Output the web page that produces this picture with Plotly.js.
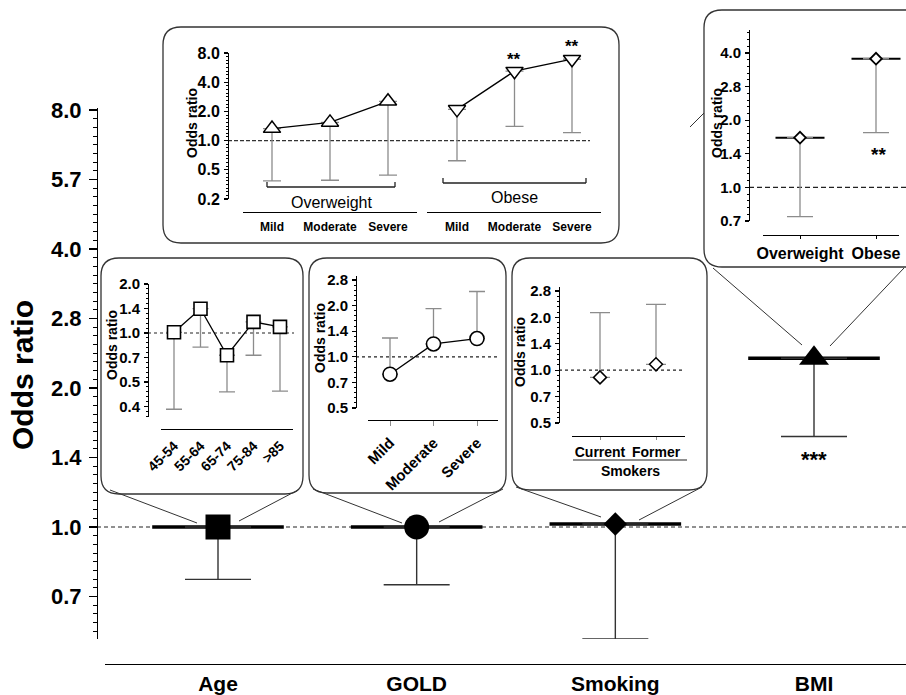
<!DOCTYPE html>
<html>
<head>
<meta charset="utf-8">
<script src="https://cdn.plot.ly/plotly-3.0.1.min.js"></script>
<style>html,body{margin:0;padding:0;background:#fff;}#chart{width:906px;height:695px;}</style>
</head>
<body>
<div id="chart"></div>
<script>
// ---------------- DATA ----------------
// Main panel
const mainCats = ['Age', 'GOLD', 'Smoking', 'BMI'];
const mainOR = [1.0, 1.0, 1.015, 2.32];
const mainLower = [0.77, 0.75, 0.572, 1.57];
const mainTickVals = [0.7071, 1, 1.4142, 2, 2.8284, 4, 5.6569, 8];
const mainTickText = ['0.7', '1.0', '1.4', '2.0', '2.8', '4.0', '5.7', '8.0'];

// Age inset
const ageCats = ['45-54', '55-64', '65-74', '75-84', '>85'];
const ageOR = [1.01, 1.41, 0.73, 1.17, 1.09];
const ageLower = [0.34, 0.82, 0.435, 0.73, 0.44];
const ageTickVals = [0.3536, 0.5, 0.7071, 1, 1.4142, 2];
const ageTickText = ['0.4', '0.5', '0.7', '1.0', '1.4', '2.0'];

// GOLD inset
const goldCats = ['Mild', 'Moderate', 'Severe'];
const goldOR = [0.79, 1.19, 1.28];
const goldUpper = [1.29, 1.92, 2.42];
const goldTickVals = [0.5, 0.7071, 1, 1.4142, 2, 2.8284];
const goldTickText = ['0.5', '0.7', '1.0', '1.4', '2.0', '2.8'];

// Smoking inset
const smokeCats = ['Current', 'Former'];
const smokeOR = [0.91, 1.08];
const smokeUpper = [2.13, 2.37];
const smokeTickVals = [0.5, 0.7071, 1, 1.4142, 2, 2.8284];
const smokeTickText = ['0.5', '0.7', '1.0', '1.4', '2.0', '2.8'];

// BMI inset
const bmiCats = ['Overweight', 'Obese'];
const bmiOR = [1.67, 3.77];
const bmiLower = [0.74, 1.76];
const bmiTickVals = [0.7071, 1, 1.4142, 2, 2.8284, 4];
const bmiTickText = ['0.7', '1.0', '1.4', '2.0', '2.8', '4.0'];

// Severity x BMI inset
const sevCats = ['Mild', 'Moderate', 'Severe'];
const owOR = [1.33, 1.54, 2.54];
const owLower = [0.385, 0.39, 0.44];
const obOR = [2.1, 5.2, 6.9];
const obLower = [0.62, 1.40, 1.21];
const sevTickVals = [0.25, 0.5, 1, 2, 4, 8];
const sevTickText = ['0.2', '0.5', '1.0', '2.0', '4.0', '8.0'];

// ---------------- HELPERS ----------------
const W = 906, H = 695;
const px = x => x / W;
const py = y => 1 - y / H;
const FONT = 'Liberation Sans, Arial, Helvetica, sans-serif';
const bold = (size) => ({family: FONT, size: size, color: '#000', weight: 'bold'});

function logRange(yTop, yBot, y1, v1, y2, v2) {
  const l1 = Math.log10(v1), l2 = Math.log10(v2);
  const k = (l2 - l1) / (y2 - y1);
  return [l1 + (yBot - y1) * k, l1 + (yTop - y1) * k];
}
function catRange(xL, xR, x0, x1, n) {
  const k = (n - 1) / (x1 - x0);
  return [-(x0 - xL) * k, (n - 1) + (xR - x1) * k];
}
function minorVals(tv, n, r) {
  const step = Math.log10(tv[1] / tv[0]) / (n + 1);
  const out = [];
  const start = Math.log10(tv[0]);
  for (let k = -200; k < 200; k++) {
    const l = start + k * step;
    if (l < r[0] - 1e-9 || l > r[1] + 1e-9) continue;
    if (k % (n + 1) === 0) continue;
    out.push(Math.pow(10, l));
  }
  return out;
}
function yLog(domTop, domBot, xPos, ref1, ref2, tv, tt, fs, tl, nMinor, stand) {
  const r = logRange(domTop, domBot, ref1[0], ref1[1], ref2[0], ref2[1]);
  return {
    domain: [py(domBot), py(domTop)], type: 'log', range: r, autorange: false,
    anchor: 'free', position: px(xPos), showline: true, linecolor: '#000', linewidth: 1.3,
    showgrid: false, zeroline: false, tickmode: 'array', tickvals: tv, ticktext: tt,
    ticks: 'outside', ticklen: tl, tickwidth: 1.2, tickcolor: '#000',
    ticklabelstandoff: stand, tickfont: bold(fs), automargin: false, fixedrange: true,
    minor: {tickmode: 'array', tickvals: minorVals(tv, nMinor, r), ticks: 'outside',
            ticklen: Math.max(2, tl * 0.5), tickwidth: 1, tickcolor: '#000', showgrid: false}
  };
}
function xCat(domL, domR, yPos, x0, x1, cats, fs, opts) {
  return Object.assign({
    domain: [px(domL), px(domR)], type: 'category', range: catRange(domL, domR, x0, x1, cats.length),
    autorange: false, anchor: 'free', position: py(yPos), showline: true, linecolor: '#000',
    linewidth: 1.3, showgrid: false, zeroline: false, ticks: '', tickfont: bold(fs),
    automargin: false, fixedrange: true
  }, opts || {});
}
function roundRect(x0, y0, x1, y1, r) {
  const X = v => px(v).toFixed(5), Y = v => py(v).toFixed(5);
  return 'M' + X(x0 + r) + ',' + Y(y0) +
    ' L' + X(x1 - r) + ',' + Y(y0) + ' Q' + X(x1) + ',' + Y(y0) + ' ' + X(x1) + ',' + Y(y0 + r) +
    ' L' + X(x1) + ',' + Y(y1 - r) + ' Q' + X(x1) + ',' + Y(y1) + ' ' + X(x1 - r) + ',' + Y(y1) +
    ' L' + X(x0 + r) + ',' + Y(y1) + ' Q' + X(x0) + ',' + Y(y1) + ' ' + X(x0) + ',' + Y(y1 - r) +
    ' L' + X(x0) + ',' + Y(y0 + r) + ' Q' + X(x0) + ',' + Y(y0) + ' ' + X(x0 + r) + ',' + Y(y0) + ' Z';
}
function boxShape(x0, y0, x1, y1, r) {
  return {type: 'path', xref: 'paper', yref: 'paper', path: roundRect(x0, y0, x1, y1, r),
          line: {color: '#333', width: 1.3}, fillcolor: 'rgba(0,0,0,0)', layer: 'above'};
}
function seg(x0, y0, x1, y1, c, w, dash) {
  return {type: 'line', xref: 'paper', yref: 'paper', x0: px(x0), y0: py(y0), x1: px(x1), y1: py(y1),
          line: {color: c || '#333', width: w || 1, dash: dash || 'solid'}, layer: 'above'};
}
function refLine(yref, x0, x1, dash, c) {
  return {type: 'line', xref: 'paper', yref: yref, x0: px(x0), x1: px(x1), y0: 1, y1: 1,
          line: {color: c || '#222', width: 1.2, dash: dash}, layer: 'below'};
}
const minus = (a, b) => a.map((v, i) => v - b[i]);
const zeros = a => a.map(() => 0);
const GRAY = '#8c8c8c';

// ---------------- TRACES ----------------
const traces = [];

// main: wide horizontal bars at OR (line-ew length = 1.4 * size)
traces.push({
  x: mainCats, y: mainOR, xaxis: 'x', yaxis: 'y', type: 'scatter', mode: 'markers',
  marker: {symbol: 'line-ew', size: 94, opacity: 1, line: {color: '#000', width: 3.5}},
  cliponaxis: false, hoverinfo: 'skip'
});
// main: markers + lower error bars
traces.push({
  x: mainCats, y: mainOR, xaxis: 'x', yaxis: 'y', type: 'scatter', mode: 'markers',
  marker: {symbol: ['square', 'circle', 'diamond', 'triangle-up'], size: [25, 25, 18, 26], color: '#000',
           opacity: 1, line: {width: 0}},
  error_y: {type: 'data', symmetric: false, array: zeros(mainOR), arrayminus: minus(mainOR, mainLower),
            color: '#333', thickness: 1.4, width: 33},
  cliponaxis: false
});

// Age inset
traces.push({
  x: ageCats, y: ageOR, xaxis: 'x2', yaxis: 'y2', type: 'scatter', mode: 'lines+markers',
  line: {color: '#000', width: 1.3},
  marker: {symbol: 'square', size: 13, color: '#fff', line: {color: '#000', width: 1.6}},
  error_y: {type: 'data', symmetric: false, array: zeros(ageOR), arrayminus: minus(ageOR, ageLower),
            color: GRAY, thickness: 1.3, width: 8},
  cliponaxis: false
});
// GOLD inset
traces.push({
  x: goldCats, y: goldOR, xaxis: 'x3', yaxis: 'y3', type: 'scatter', mode: 'lines+markers',
  line: {color: '#000', width: 1.3},
  marker: {symbol: 'circle', size: 14, color: '#fff', line: {color: '#000', width: 1.6}},
  error_y: {type: 'data', symmetric: false, array: minus(goldUpper, goldOR), arrayminus: zeros(goldOR),
            color: GRAY, thickness: 1.3, width: 8},
  cliponaxis: false
});
// Smoking inset
traces.push({
  x: smokeCats, y: smokeOR, xaxis: 'x4', yaxis: 'y4', type: 'scatter', mode: 'markers',
  marker: {symbol: 'diamond', size: 10, color: '#fff', line: {color: '#000', width: 1.5}},
  error_y: {type: 'data', symmetric: false, array: minus(smokeUpper, smokeOR), arrayminus: zeros(smokeOR),
            color: GRAY, thickness: 1.3, width: 10},
  cliponaxis: false
});
// BMI inset
traces.push({
  x: bmiCats, y: bmiOR, xaxis: 'x5', yaxis: 'y5', type: 'scatter', mode: 'markers',
  marker: {symbol: 'line-ew', size: 35, line: {color: '#000', width: 2}},
  cliponaxis: false, hoverinfo: 'skip'
});
traces.push({
  x: bmiCats, y: bmiOR, xaxis: 'x5', yaxis: 'y5', type: 'scatter', mode: 'markers',
  marker: {symbol: 'diamond', size: 9, color: '#fff', line: {color: '#000', width: 1.8}},
  error_y: {type: 'data', symmetric: false, array: zeros(bmiOR), arrayminus: minus(bmiOR, bmiLower),
            color: GRAY, thickness: 1.3, width: 13},
  cliponaxis: false
});
// Severity x BMI inset: overweight and obese
traces.push({
  x: sevCats, y: owOR, xaxis: 'x6', yaxis: 'y6', type: 'scatter', mode: 'lines+markers',
  line: {color: '#000', width: 1.3},
  marker: {symbol: 'triangle-up', size: 15, color: '#fff', line: {color: '#000', width: 1.5}},
  error_y: {type: 'data', symmetric: false, array: zeros(owOR), arrayminus: minus(owOR, owLower),
            color: GRAY, thickness: 1.3, width: 9},
  cliponaxis: false
});
traces.push({
  x: sevCats, y: obOR, xaxis: 'x7', yaxis: 'y6', type: 'scatter', mode: 'lines+markers',
  line: {color: '#000', width: 1.3},
  marker: {symbol: 'triangle-down', size: 15, color: '#fff', line: {color: '#000', width: 1.5}},
  error_y: {type: 'data', symmetric: false, array: zeros(obOR), arrayminus: minus(obOR, obLower),
            color: GRAY, thickness: 1.3, width: 9},
  cliponaxis: false
});

// ---------------- LAYOUT ----------------
const layout = {
  width: W, height: H, margin: {l: 0, r: 0, t: 0, b: 0}, showlegend: false,
  paper_bgcolor: '#fff', plot_bgcolor: 'rgba(0,0,0,0)', hovermode: false,
  // main
  xaxis: xCat(105, 906, 664, 218, 814, mainCats, 21, {ticklabelstandoff: 0}),
  yaxis: yLog(108, 639, 97, [110, 8], [527, 1], mainTickVals, mainTickText, 22, 8, 7, 3),
  // age
  xaxis2: xCat(161, 293, 429, 174, 280, ageCats, 14, {tickangle: -45, ticklabelstandoff: 2}),
  yaxis2: yLog(284, 417, 148, [284, 2], [333, 1], ageTickVals, ageTickText, 15, 4, 4, 1),
  // gold
  xaxis3: xCat(368, 498, 420, 390, 477, goldCats, 15, {tickangle: -45, ticks: 'outside', ticklen: 5, tickcolor: GRAY, ticklabelstandoff: 2}),
  yaxis3: yLog(276, 408, 356, [280, 2.8284], [408, 0.5], goldTickVals, goldTickText, 15, 4, 4, 1),
  // smoking
  xaxis4: xCat(572, 685, 436, 600, 656, smokeCats, 14, {ticks: 'outside', ticklen: 3, tickcolor: GRAY, ticklabelstandoff: 0}),
  yaxis4: yLog(287, 423, 559, [291, 2.8284], [423, 0.5], smokeTickVals, smokeTickText, 15, 4, 4, 1),
  // bmi
  xaxis5: xCat(763, 899, 235, 800, 876, bmiCats, 16, {ticks: 'outside', ticklen: 3, tickcolor: '#000', ticklabelstandoff: 0}),
  yaxis5: yLog(30, 221, 749, [53, 4], [221, 0.7071], bmiTickVals, bmiTickText, 15, 4, 4, 1),
  // severity
  xaxis6: xCat(243, 417, 212, 272, 388, sevCats, 12, {ticklabelstandoff: 3}),
  xaxis7: xCat(427, 601, 212, 457, 572, sevCats, 12, {ticklabelstandoff: 3}),
  yaxis6: yLog(53, 199, 228, [53, 8], [199, 0.25], sevTickVals, sevTickText, 16, 4, 7, 1),
  shapes: [],
  annotations: []
};

// reference lines at OR = 1
layout.shapes.push(refLine('y', 97, 906, '4px,3px', '#222'));
layout.shapes.push(refLine('y2', 148, 294, 'dot', '#222'));
layout.shapes.push(refLine('y3', 356, 498, 'dot', '#222'));
layout.shapes.push(refLine('y4', 559, 685, 'dot', '#222'));
layout.shapes.push(refLine('y5', 749, 906, '5px,3px', '#222'));
layout.shapes.push(refLine('y6', 228, 590, '4px,2px', '#333'));

// inset boxes
layout.shapes.push(boxShape(163, 27, 619, 243, 18));
layout.shapes.push(boxShape(704, 10, 925, 267, 18));
layout.shapes.push(boxShape(101, 258, 303, 494, 18));
layout.shapes.push(boxShape(309, 258, 506, 493, 18));
layout.shapes.push(boxShape(512, 258, 707, 490, 18));

// connectors
layout.shapes.push(seg(110, 490, 197, 523));
layout.shapes.push(seg(298, 490, 239, 521));
layout.shapes.push(seg(313, 489, 402, 523));
layout.shapes.push(seg(503, 489, 439, 522));
layout.shapes.push(seg(516, 487, 601, 517));
layout.shapes.push(seg(702, 487, 639, 520));
layout.shapes.push(seg(713, 268, 802, 345));
layout.shapes.push(seg(904, 268, 830, 346));
layout.shapes.push(seg(690, 127, 704, 113));

// severity inset brackets
layout.shapes.push(seg(267, 187, 395, 187, '#222', 1.3));
layout.shapes.push(seg(267, 187, 267, 182, '#222', 1.3));
layout.shapes.push(seg(395, 187, 395, 182, '#222', 1.3));
layout.shapes.push(seg(443, 183, 586, 183, '#222', 1.3));
layout.shapes.push(seg(443, 183, 443, 178, '#222', 1.3));
layout.shapes.push(seg(586, 183, 586, 178, '#222', 1.3));
// smoking group line
layout.shapes.push(seg(573, 460, 687, 460, '#222', 1.2));

function ann(text, x, y, font, angle) {
  return {text: text, x: px(x), y: py(y), xref: 'paper', yref: 'paper', showarrow: false,
          xanchor: 'center', yanchor: 'middle', font: font, textangle: angle || 0};
}
layout.annotations.push(ann('Odds ratio', 22, 375, bold(30), -90));
layout.annotations.push(ann('Odds ratio', 112, 345, bold(14), -90));
layout.annotations.push(ann('Odds ratio', 320, 338, bold(14), -90));
layout.annotations.push(ann('Odds ratio', 520, 352, bold(14), -90));
layout.annotations.push(ann('Odds ratio', 717, 123, bold(14), -90));
layout.annotations.push(ann('Odds ratio', 192, 123, bold(14), -90));
layout.annotations.push(ann('Smokers', 630, 471, bold(14)));
layout.annotations.push(ann('Overweight', 331, 202, {family: FONT, size: 16, color: '#000'}));
layout.annotations.push(ann('Obese', 514, 198, {family: FONT, size: 16, color: '#000'}));
layout.annotations.push(ann('**', 514, 59, bold(17)));
layout.annotations.push(ann('**', 572, 47, bold(17)));
layout.annotations.push(ann('**', 878, 155, bold(19)));
layout.annotations.push(ann('***', 814, 459, bold(22)));

Plotly.newPlot('chart', traces, layout, {displayModeBar: false, staticPlot: true});
</script>
</body>
</html>
